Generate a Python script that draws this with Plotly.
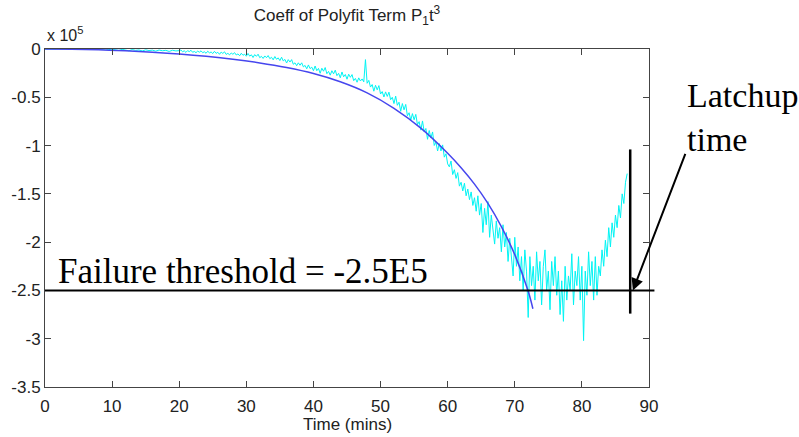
import numpy as np
import plotly.graph_objects as go

# ---------------- data (units of 1e5) ----------------
# measured coefficient: every 0.5 min from 0 to 20, then every 0.25 min to 86.75
t_meas = np.concatenate([np.arange(0, 20.01, 0.5), np.arange(20.25, 86.76, 0.25)])
coeff_meas = [
    # 0 - 10 (0.5 step)
    0.000, -0.002, 0.003, -0.001, 0.002, -0.003, 0.001, -0.002, 0.004, -0.001, 0.002,
    -0.004, 0.001, -0.003, 0.002, -0.005, 0.000, -0.004, 0.001, -0.006, -0.002,
    # 10.5 - 20 (0.5 step)
    -0.008, -0.015, -0.004, -0.012, -0.018, -0.006, -0.014, -0.010, -0.020, -0.009,
    -0.016, -0.012, -0.022, -0.011, -0.018, -0.014, -0.025, -0.013, -0.020, -0.017,
    # 20.25 - 25
    -0.011, -0.028, -0.019, -0.035, -0.017, -0.027, -0.013, -0.034, -0.026, -0.038,
    -0.022, -0.033, -0.019, -0.038, -0.029, -0.044, -0.023, -0.040, -0.031, -0.047,
    # 25.25 - 30
    -0.024, -0.045, -0.034, -0.055, -0.032, -0.046, -0.029, -0.056, -0.045, -0.061,
    -0.041, -0.055, -0.038, -0.062, -0.051, -0.070, -0.044, -0.065, -0.054, -0.075,
    # 30.25 - 35
    -0.046, -0.074, -0.060, -0.088, -0.058, -0.076, -0.054, -0.090, -0.076, -0.098,
    -0.072, -0.090, -0.068, -0.100, -0.086, -0.112, -0.078, -0.106, -0.092, -0.120,
    # 35.25 - 40
    -0.085, -0.123, -0.108, -0.145, -0.110, -0.135, -0.110, -0.158, -0.143, -0.173,
    -0.143, -0.168, -0.143, -0.185, -0.170, -0.205, -0.165, -0.203, -0.188, -0.225,
    # 40.25 - 47
    -0.176, -0.225, -0.201, -0.251, -0.199, -0.230, -0.192, -0.256, -0.232, -0.271,
    -0.225, -0.257, -0.219, -0.276, -0.252, -0.298, -0.238, -0.288, -0.264, -0.313,
    -0.261, -0.293, -0.265, -0.328, -0.305, -0.344, -0.299, -0.331,
    # 47.25 - 48 (spike at 47.75)
    -0.310, -0.340, -0.110, -0.355,
    # 48.25 - 52
    -0.325, -0.394, -0.368, -0.437, -0.376, -0.423, -0.379, -0.466,
    -0.441, -0.497, -0.444, -0.491, -0.447, -0.525, -0.500, -0.565,
    # 52.25 - 56
    -0.488, -0.583, -0.551, -0.645, -0.565, -0.630, -0.574, -0.692,
    -0.660, -0.737, -0.669, -0.733, -0.677, -0.784, -0.752, -0.840,
    # 56.25 - 60
    -0.745, -0.858, -0.823, -0.935, -0.844, -0.922, -0.859, -0.999,
    -0.964, -1.056, -0.979, -1.056, -0.993, -1.120, -1.085, -1.190,
    # 60.25 - 86.75
    -1.220, -1.160, -1.300, -1.250,
    -1.340, -1.280, -1.420, -1.380,
    -1.470, -1.390, -1.520, -1.450,
    -1.560, -1.480, -1.620, -1.540,
    -1.680, -1.520, -1.720, -1.600,
    -1.900, -1.650, -1.820, -1.580,
    -1.950, -1.720, -1.880, -2.020,
    -1.780, -1.960, -1.850, -2.100,
    -1.820, -2.050, -1.900, -2.200,
    -1.960, -2.150, -2.350, -1.950,
    -2.250, -2.050, -2.400, -2.150,
    -2.500, -2.080, -2.300, -2.780,
    -2.150, -2.450, -2.250, -2.600,
    -2.100, -2.400, -2.200, -2.650,
    -2.250, -2.080, -2.500, -2.300,
    -2.700, -2.200, -2.450, -2.150,
    -2.550, -2.300, -2.750, -2.400,
    -2.820, -2.250, -2.600, -2.350,
    -2.500, -2.120, -2.650, -2.300,
    -2.450, -2.150, -2.600, -2.250,
    -3.020, -2.300, -2.550, -2.100,
    -2.450, -2.200, -2.600, -2.150,
    -2.550, -2.250, -2.350, -2.080,
    -2.250, -1.980, -2.150, -1.850,
    -2.050, -1.800, -1.950, -1.720,
    -1.850, -1.620, -1.750, -1.500,
    -1.600, -1.380, -1.290,
]

# polynomial-fit curve
t_fit = [0, 4, 8, 12, 16, 20, 24, 28, 32, 36, 40, 44, 48, 52, 56, 60, 62, 64, 66, 68, 70, 72, 72.7]
coeff_fit = [0, -0.003, -0.009, -0.019, -0.033, -0.052, -0.076, -0.106, -0.144, -0.192, -0.254,
             -0.339, -0.454, -0.614, -0.819, -1.079, -1.229, -1.399, -1.599, -1.839, -2.129,
             -2.509, -2.690]

threshold = -2.5
latchup_time = 87.2
latchup_bar = [-1.04, -2.74]

x_ticks = [0, 10, 20, 30, 40, 50, 60, 70, 80, 90]
y_ticks = [0, -0.5, -1, -1.5, -2, -2.5, -3, -3.5]
y_tick_labels = ["0", "-0.5", "-1", "-1.5", "-2", "-2.5", "-3", "-3.5"]

n = min(len(t_meas), len(coeff_meas))
t_meas = t_meas[:n]
coeff_meas = coeff_meas[:n]

# ---------------- figure ----------------
sans = "Liberation Sans, Arial, sans-serif"
serif = "Liberation Serif, Times New Roman, serif"

fig = go.Figure()
fig.add_trace(go.Scatter(x=t_meas, y=coeff_meas, mode="lines",
                         line=dict(color="#00f4f4", width=1), showlegend=False))
fig.add_trace(go.Scatter(x=t_fit, y=coeff_fit, mode="lines",
                         line=dict(color="#4646ee", width=1.5, shape="spline", smoothing=1.0),
                         showlegend=False))

axis_common = dict(showline=True, linecolor="#444", linewidth=1, mirror="ticks",
                   ticks="inside", ticklen=6, tickcolor="#444", showgrid=False,
                   zeroline=False, automargin=False,
                   tickfont=dict(family=sans, size=17, color="#222"))

fig.update_xaxes(range=[0, 90], tickvals=x_ticks, ticklabelstandoff=4, **axis_common)
fig.update_yaxes(range=[-3.5, 0], tickvals=y_ticks, ticktext=y_tick_labels, **axis_common)

# threshold line (extends slightly past right axis)
fig.add_shape(type="line", xref="paper", yref="y", x0=0, x1=1.009, y0=threshold, y1=threshold,
              line=dict(color="black", width=2))
# latchup vertical bar
fig.add_shape(type="line", xref="x", yref="y", x0=latchup_time, x1=latchup_time,
              y0=latchup_bar[0], y1=latchup_bar[1], line=dict(color="black", width=2.5))

fig.add_annotation(text="Time (mins)", xref="paper", yref="paper", x=0.5, y=-(425 - 387) / 338,
                   xanchor="center", yanchor="middle", showarrow=False,
                   font=dict(family=sans, size=17, color="#222"))
fig.add_annotation(text="x 10<sup>5</sup>", xref="paper", yref="paper", x=0, y=1.045,
                   xanchor="left", yanchor="middle", showarrow=False,
                   font=dict(family=sans, size=16, color="#222"))
fig.add_annotation(text="Failure threshold = -2.5E5", xref="paper", yref="paper",
                   x=0.019, y=(387 - 271) / 338, xanchor="left", yanchor="middle",
                   showarrow=False, font=dict(family=serif, size=35, color="black"))
fig.add_annotation(text="Latchup<br>time", xref="paper", yref="paper",
                   x=(685 - 45) / 604, y=(387 - 117) / 338, xanchor="left", yanchor="middle",
                   align="left", showarrow=False,
                   font=dict(family=serif, size=34, color="black"))
fig.add_annotation(text="", x=87.6, y=threshold, xref="x", yref="y",
                   ax=53, ay=-138, showarrow=True, arrowhead=2, arrowsize=1.2,
                   arrowwidth=2, arrowcolor="black")

fig.update_layout(
    width=799, height=437,
    margin=dict(l=45, r=150, t=49, b=50),
    paper_bgcolor="white", plot_bgcolor="white",
    title=dict(text="Coeff of Polyfit Term P<sub>1</sub>t<sup>3</sup>", x=0.5, xref="paper",
               y=1 - 15 / 437, yref="container", yanchor="middle",
               font=dict(family=sans, size=17, color="#222")),
)

fig.write_html("out.html")
